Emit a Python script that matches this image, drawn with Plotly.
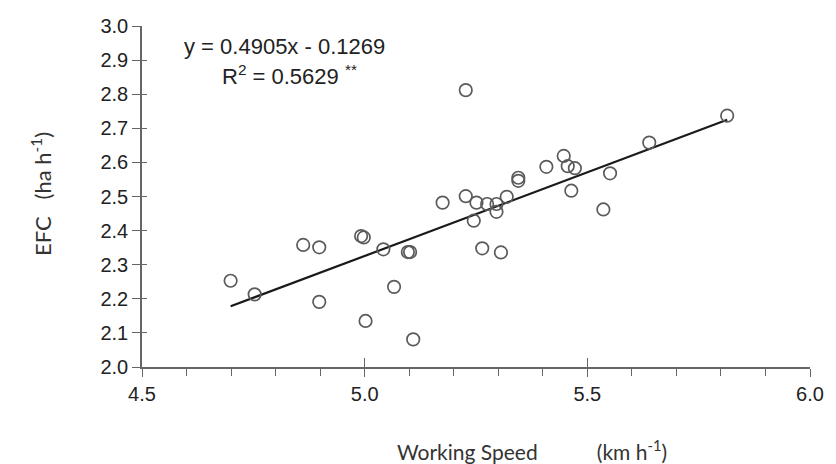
import plotly.graph_objects as go

speed = [4.699, 4.753, 4.862, 4.898, 4.898, 4.992, 4.998, 5.002, 5.042, 5.066,
         5.097, 5.102, 5.109, 5.175, 5.227, 5.227, 5.245, 5.251, 5.275, 5.264,
         5.296, 5.296, 5.306, 5.319, 5.345, 5.345, 5.408, 5.447, 5.456, 5.472,
         5.464, 5.536, 5.551, 5.639, 5.814]
efc = [2.253, 2.213, 2.358, 2.351, 2.191, 2.384, 2.380, 2.135, 2.345, 2.235,
       2.337, 2.337, 2.081, 2.482, 2.812, 2.501, 2.429, 2.482, 2.478, 2.348,
       2.478, 2.455, 2.336, 2.499, 2.555, 2.546, 2.587, 2.619, 2.589, 2.583,
       2.517, 2.462, 2.568, 2.658, 2.737]

slope = 0.4905
intercept = -0.1269

x_major = [4.5, 5.0, 5.5, 6.0]
x_major_text = ["4.5", "5.0", "5.5", "6.0"]
y_ticks = [2.0, 2.1, 2.2, 2.3, 2.4, 2.5, 2.6, 2.7, 2.8, 2.9, 3.0]
y_tick_text = ["2.0", "2.1", "2.2", "2.3", "2.4", "2.5", "2.6", "2.7", "2.8", "2.9", "3.0"]

line_x = [min(speed), max(speed)]
line_y = [slope * v + intercept for v in line_x]

fig = go.Figure()
fig.add_trace(go.Scatter(x=line_x, y=line_y, mode="lines",
                         line=dict(color="#1a1a1a", width=2.2), showlegend=False,
                         hoverinfo="skip"))
fig.add_trace(go.Scatter(x=speed, y=efc, mode="markers",
                         marker=dict(symbol="circle-open", size=12.5,
                                     color="#5a5a5a", line=dict(width=1.7)),
                         showlegend=False))
# invisible trace for the overlay axes (ticks crossing the axis line)
fig.add_trace(go.Scatter(x=[4.5], y=[2.0], xaxis="x2", yaxis="y2", mode="markers",
                         marker=dict(opacity=0), showlegend=False, hoverinfo="skip"))

tick_font = dict(family="Liberation Sans, Arial", size=20, color="#222222")
axis_col = "#666666"

PL, PR, PT, PB = 142, 19, 26, 97
PW = 836 - PL - PR
PH = 464 - PT - PB


def px(xp):
    return (xp - PL) / PW


def py(yp):
    return (464 - PB - yp) / PH


fig.update_layout(
    width=836, height=464,
    margin=dict(l=PL, r=PR, t=PT, b=PB),
    paper_bgcolor="white", plot_bgcolor="white",
    xaxis=dict(range=[4.5, 6.0], tickvals=x_major, ticktext=x_major_text,
               ticks="outside", ticklen=8, tickwidth=1.3, tickcolor=axis_col,
               minor=dict(dtick=0.1, tick0=4.5, ticks="outside", ticklen=7,
                          tickwidth=1.3, tickcolor=axis_col, showgrid=False),
               showline=True, linecolor=axis_col, linewidth=1.5,
               showgrid=False, zeroline=False, tickfont=tick_font),
    yaxis=dict(range=[2.0, 3.0], tickvals=y_ticks, ticktext=y_tick_text,
               ticks="outside", ticklen=8, tickwidth=1.3, tickcolor=axis_col,
               showline=True, linecolor=axis_col, linewidth=1.5,
               showgrid=False, zeroline=False, tickfont=tick_font),
    xaxis2=dict(range=[4.5, 6.0], overlaying="x", anchor="y2", side="bottom",
                tickvals=x_major, ticks="inside", ticklen=9, tickwidth=1.3,
                tickcolor=axis_col, showticklabels=False, showline=False,
                showgrid=False, zeroline=False),
    yaxis2=dict(range=[2.0, 3.0], overlaying="y", anchor="x2", side="left",
                tickvals=y_ticks, ticks="inside", ticklen=5, tickwidth=1.3,
                tickcolor=axis_col, showticklabels=False, showline=False,
                showgrid=False, zeroline=False),
    annotations=[
        dict(text="y = 0.4905x - 0.1269", xref="paper", yref="paper",
             x=px(286), y=py(47), xanchor="center", yanchor="middle",
             showarrow=False, font=dict(family="Liberation Sans, Arial", size=22, color="#222222")),
        dict(text="R<sup>2</sup> = 0.5629 <sup>**</sup>", xref="paper", yref="paper",
             x=px(221), y=py(75), xanchor="left", yanchor="middle",
             showarrow=False, font=dict(family="Liberation Sans, Arial", size=22, color="#222222")),
        dict(text="EFC   (ha h<sup>-1</sup>)", xref="paper", yref="paper",
             x=px(40), y=py(194), xanchor="center", yanchor="middle", textangle=-90,
             showarrow=False, font=dict(family="Lato", size=22, color="#333333")),
        dict(text="Working Speed" + "\u00a0" * 11 + "(km h<sup>-1</sup>)", xref="paper", yref="paper",
             x=px(536), y=py(450), xanchor="center", yanchor="middle",
             showarrow=False, font=dict(family="Lato", size=21, color="#333333")),
    ],
)

fig.write_html("out.html", config={"displayModeBar": False},
               post_script="document.body.style.margin='0';")
